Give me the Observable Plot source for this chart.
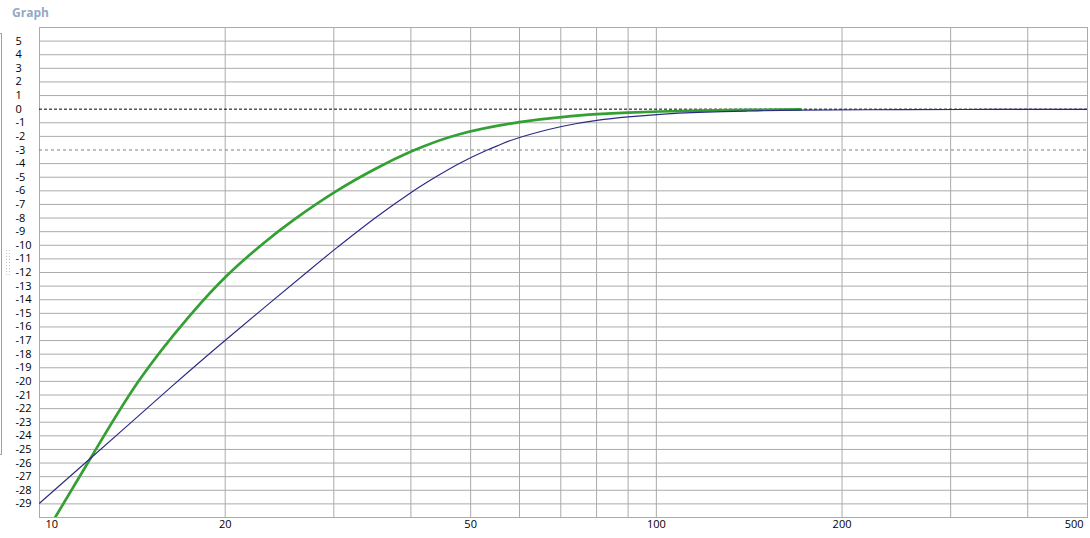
<!DOCTYPE html>
<html><head><meta charset="utf-8">
<script src="https://cdn.jsdelivr.net/npm/d3@7"></script>
<script src="https://cdn.jsdelivr.net/npm/@observablehq/plot@0.6"></script>
<style>
body{margin:0;background:#fff;font-family:"Open Sans","Noto Sans",sans-serif;}
#wrap{position:relative;width:1090px;height:538px;overflow:hidden;background:#fff}
#title{height:20px;padding-left:12px;font-size:12px;font-weight:bold;color:#93a9c6;line-height:25px;box-sizing:border-box;overflow:visible;white-space:nowrap}
#bracket{position:absolute;left:0;top:33px;width:1px;height:420px;border:1px solid #a0a0a0;border-left:none}
#grip{position:absolute;left:5px;top:249px;width:7px;height:27px;background-image:radial-gradient(#c4c4c4 0.9px, transparent 1px);background-size:3px 3px}
svg{display:block}
</style></head>
<body>
<div id="wrap">
<div id="title">Graph</div>
<div id="chart"></div>
<div id="bracket"></div>
<div id="grip"></div>
</div>
<script>
// Tick positions and labels
const xGrid = [10,20,30,40,50,60,70,80,90,100,200,300,400,500];
const xLabelsMid = [20,50,100,200];
const xLabelFirst = [10];
const xLabelLast = [500];
const yGrid = d3.range(-30,7).filter(v => v !== 0 && v !== -3);
const yLabels = d3.range(-29,6);

// Series (frequency, dB)
const greenFreq = [10.45,10.6,12.1,14.48,17.5,20.1,23,25.8,30.1,35,40.1,48.1,60,70.2,80.1,90,101.5,117,142,171];
const greenDb   = [-30.6,-30.0,-25.65,-19.97,-15.2,-12.25,-9.9,-8.15,-6.1,-4.4,-3.1,-1.82,-0.95,-0.58,-0.37,-0.25,-0.17,-0.1,-0.05,-0.02];
const blueFreq = [10,12.1,16.3,20.1,27.5,30.6,35,40.1,44,48.1,53.2,55.9,60,70.2,80.1,90,101.5,117,140,171,250,350,500];
const blueDb   = [-28.95,-25.65,-20.46,-16.9,-11.76,-10.05,-8.0,-6.1,-4.95,-3.95,-3.0,-2.6,-2.08,-1.27,-0.82,-0.57,-0.38,-0.24,-0.14,-0.07,-0.03,-0.02,-0.01];

const green = greenFreq.map((f,i)=>({f, db: greenDb[i]}));
const blue = blueFreq.map((f,i)=>({f, db: blueDb[i]}));

const chart = Plot.plot({
  width: 1090, height: 518,
  marginTop: 7, marginBottom: 21, marginLeft: 39, marginRight: 3,
  x: {type: "log", domain: [10, 500], axis: null},
  y: {domain: [-30, 6], axis: null},
  style: {fontFamily: '"Open Sans","Noto Sans",sans-serif', fontSize: "11px", color: "#000", background: "#fff"},
  marks: [
    Plot.ruleY(yGrid, {stroke: "#ababab", strokeWidth: 1}),
    Plot.ruleX(xGrid, {stroke: "#ababab", strokeWidth: 1}),
    Plot.frame({stroke: "#ababab"}),
    Plot.ruleY([-3], {stroke: "#808080", strokeDasharray: "3,3"}),
    Plot.ruleY([0], {stroke: "#000", strokeDasharray: "3,2"}),
    Plot.line(green, {x: "f", y: "db", stroke: "#34a034", strokeWidth: 2.7, curve: "natural", clip: true}),
    Plot.line(blue, {x: "f", y: "db", stroke: "#2a2a86", strokeWidth: 1.15, curve: "natural", clip: true}),
    Plot.text(yLabels, {y: d => d, text: d => String(d), frameAnchor: "left", dx: -24, textAnchor: "start", fill: "#000"}),
    Plot.text(xLabelsMid, {x: d => d, text: d => String(d), frameAnchor: "bottom", lineAnchor: "top", dy: 3, fill: "#000"}),
    Plot.text(xLabelFirst, {x: d => d, text: d => String(d), frameAnchor: "bottom", lineAnchor: "top", dy: 3, dx: 6, textAnchor: "start", fill: "#000"}),
    Plot.text(xLabelLast, {x: d => d, text: d => String(d), frameAnchor: "bottom", lineAnchor: "top", dy: 3, dx: -4, textAnchor: "end", fill: "#000"})
  ]
});
document.getElementById("chart").appendChild(chart);
</script>
</body></html>
